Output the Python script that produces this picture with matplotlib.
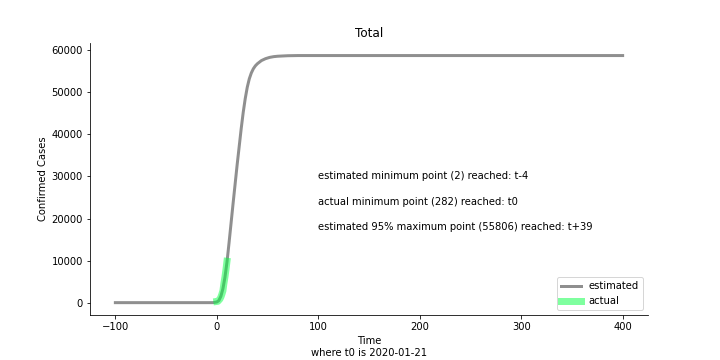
import matplotlib
matplotlib.use("Agg")
import matplotlib.pyplot as plt

# Estimated (fitted) curve
est_t = [-100, -20, -10, -4, 0, 2, 4, 6, 8, 10, 12, 14, 16, 18, 20, 22, 24, 26,
         28, 30, 32, 34, 36, 38, 40, 44, 48, 52, 56, 60, 70, 80, 400]
est_y = [0, 0, 0, 2, 150, 500, 1500, 3300, 6000, 9600, 14100, 18800, 23500, 28100,
         32700, 37000, 41300, 45200, 48500, 51200, 53200, 54600, 55600, 56300,
         56800, 57550, 58000, 58300, 58480, 58580, 58700, 58740, 58740]

# Actual confirmed cases from t0
act_t = [0, 1, 2, 3, 4, 5, 6, 7, 8, 9, 10]
act_y = [282, 314, 581, 846, 1320, 2014, 2798, 4593, 6065, 7818, 9826]

annotations = [
    "estimated minimum point (2) reached: t-4",
    "actual minimum point (282) reached: t0",
    "estimated 95% maximum point (55806) reached: t+39",
]
annot_y = [30000, 24000, 18000]
annot_x = 100

fig = plt.figure(figsize=(10, 5), dpi=72)
ax = fig.add_axes([0.125, 0.125, 0.775, 0.755])

ax.plot(est_t, est_y, color="grey", alpha=0.88, lw=3, label="estimated")
ax.plot(act_t, act_y, color="#00ff40", alpha=0.5, lw=7, label="actual")

for txt, y in zip(annotations, annot_y):
    ax.text(annot_x, y, txt, fontsize=10, va="center", ha="left")

ax.set_title("Total", fontsize=12)
ax.set_xlabel("Time\nwhere t0 is 2020-01-21")
ax.set_ylabel("Confirmed Cases")
ax.spines["top"].set_visible(False)
ax.spines["right"].set_visible(False)
ax.legend(loc="lower right")

fig.savefig("out.png", dpi=72)
